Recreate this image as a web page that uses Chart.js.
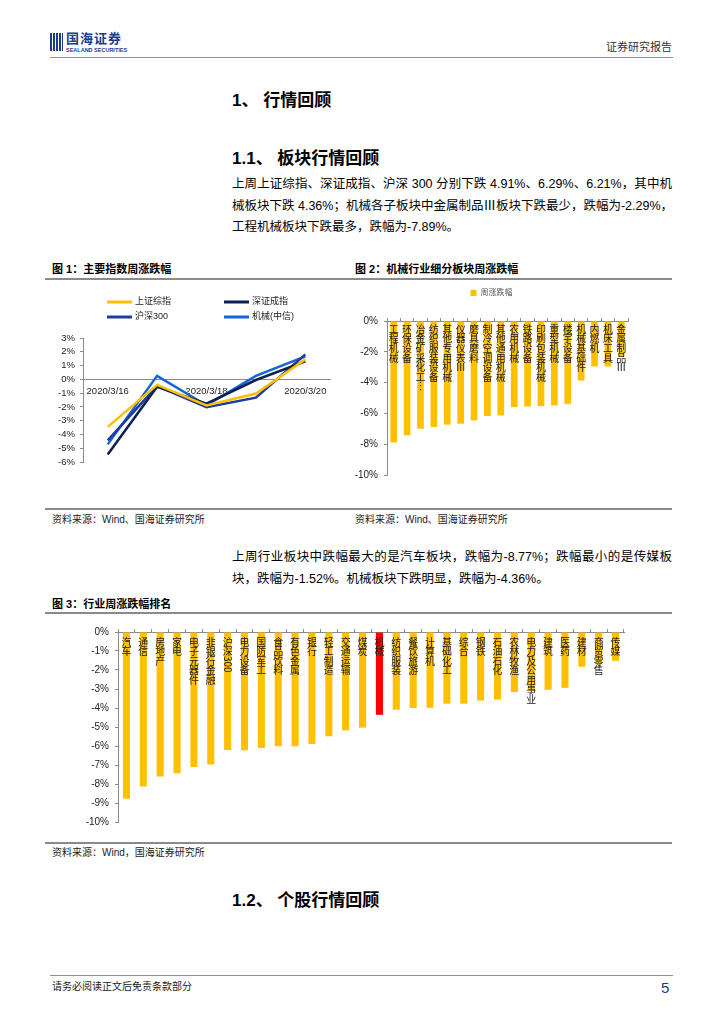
<!DOCTYPE html>
<html>
<head>
<meta charset="utf-8">
<script src="https://cdn.jsdelivr.net/npm/chart.js@4.4.1/dist/chart.umd.min.js"></script>
<style>
  body { margin: 0; background: #fff; width: 724px; height: 1024px; position: relative; overflow: hidden;
         font-family: "Liberation Sans", "Noto Sans CJK SC", sans-serif; color: #000; }
  .abs { position: absolute; white-space: nowrap; line-height: 1.2; }
  .rule-blue { position: absolute; left: 50px; width: 623px; height: 1px; background: #8c8cc4; }
  .rule-gray { position: absolute; left: 45px; width: 627px; height: 2px; background: #8a8a8a; }
  .h1 { font-size: 17px; font-weight: bold; }
  .para { font-size: 12.5px; width: 440px; text-align: justify; text-align-last: justify; }
  .para.last { text-align-last: left; }
  .figt { font-size: 11px; font-weight: bold; }
  .src { font-size: 10px; color: #222; }
  canvas { position: absolute; }
</style>
</head>
<body>
<!-- header -->
<div class="abs" style="left:50px;top:33px;width:13px;height:18px;background:repeating-linear-gradient(90deg,#1d3b8c 0 2px,#fff 2px 3px);"></div>
<div class="abs" style="left:66px;top:31px;font-size:13px;line-height:15px;font-weight:bold;color:#1d3b8c;letter-spacing:1px;">国海证券</div>
<div class="abs" style="left:66px;top:47px;font-size:5.5px;line-height:6px;font-weight:bold;color:#1d3b8c;">SEALAND SECURITIES</div>
<div class="abs" style="left:606px;top:41px;font-size:11px;color:#333;">证券研究报告</div>
<div class="rule-blue" style="top:57px;"></div>

<div class="abs h1" style="left:232px;top:91px;">1、 行情回顾</div>
<div class="abs h1" style="left:232px;top:149px;">1.1、 板块行情回顾</div>

<div class="abs para" style="left:232px;top:177px;">上周上证综指、深证成指、沪深 300 分别下跌 4.91%、6.29%、6.21%，其中机</div>
<div class="abs para" style="left:232px;top:199px;">械板块下跌 4.36%；机械各子板块中金属制品Ⅲ板块下跌最少，跌幅为-2.29%，</div>
<div class="abs para last" style="left:232px;top:220px;">工程机械板块下跌最多，跌幅为-7.89%。</div>

<div class="abs figt" style="left:52px;top:263px;">图 1：主要指数周涨跌幅</div>
<div class="abs figt" style="left:355px;top:263px;">图 2：机械行业细分板块周涨跌幅</div>
<div class="rule-gray" style="top:278px;"></div>

<canvas id="indexChart" width="295" height="210" style="left:50px;top:288px;"></canvas>
<canvas id="subChart" width="320" height="215" style="left:355px;top:285px;"></canvas>

<div class="rule-gray" style="top:508px;"></div>
<div class="abs src" style="left:52px;top:514px;">资料来源：Wind、国海证券研究所</div>
<div class="abs src" style="left:355px;top:514px;">资料来源：Wind、国海证券研究所</div>

<div class="abs para" style="left:232px;top:550px;">上周行业板块中跌幅最大的是汽车板块，跌幅为-8.77%；跌幅最小的是传媒板</div>
<div class="abs para last" style="left:232px;top:572px;">块，跌幅为-1.52%。机械板块下跌明显，跌幅为-4.36%。</div>

<div class="abs figt" style="left:52px;top:598px;">图 3：行业周涨跌幅排名</div>
<div class="rule-gray" style="top:612px;"></div>

<canvas id="industryChart" width="630" height="215" style="left:50px;top:620px;"></canvas>

<div class="rule-gray" style="top:842px;"></div>
<div class="abs src" style="left:52px;top:847px;">资料来源：Wind，国海证券研究所</div>

<div class="abs h1" style="left:232px;top:891px;">1.2、 个股行情回顾</div>

<div class="rule-blue" style="top:975px;"></div>
<div class="abs src" style="left:52px;top:981px;">请务必阅读正文后免责条款部分</div>
<div class="abs" style="left:661px;top:979px;font-size:15px;color:#1d3b8c;">5</div>

<script>
// 图1 主要指数日涨跌幅 (%)
const dates = ["2020/3/16", "2020/3/17", "2020/3/18", "2020/3/19", "2020/3/20"];
const shComposite = [-3.45, -0.40, -1.89, -1.03, 1.45];
const szComponent = [-5.45, -0.54, -1.77, -0.05, 1.30];
const csi300 = [-4.43, -0.49, -2.02, -1.33, 1.80];
const machinery = [-4.72, 0.25, -1.89, 0.25, 1.67];

// 图2 机械细分板块周涨跌幅 (%)
const subSectors = [
  "工程机械", "环保设备", "冶金矿采化工…", "纺织服装设备", "其他专用机械", "仪器仪表Ⅲ",
  "磨具磨料", "制冷空调设备", "其他通用机械", "农用机械", "铁路设备", "印刷包装机械",
  "重型机械", "楼宇设备", "机械基础件", "内燃机", "机床工具", "金属制品Ⅲ",
];
const subChanges = [
  -7.89, -7.42, -6.99, -6.88, -6.73, -6.67,
  -6.45, -6.17, -6.13, -5.59, -5.55, -5.53,
  -5.48, -5.38, -3.87, -2.95, -2.95, -2.29,
];

// 图3 行业周涨跌幅排名 (%)
const industries = [
  "汽车", "通信", "房地产", "家电", "电子元器件", "非银行金融", "沪深300", "电力设备",
  "国防军工", "食品饮料", "有色金属", "银行", "轻工制造", "交通运输", "煤炭", "机械",
  "纺织服装", "餐饮旅游", "计算机", "基础化工", "综合", "钢铁", "石油石化", "农林牧渔",
  "电力及公用事业", "建筑", "医药", "建材", "商贸零售", "传媒",
];
const industryChanges = [
  -8.77, -8.13, -7.60, -7.43, -7.10, -6.98, -6.21, -6.22,
  -6.10, -6.01, -6.01, -5.89, -5.49, -5.18, -5.03, -4.36,
  -4.09, -4.00, -3.99, -3.77, -3.77, -3.61, -3.56, -3.16,
  -3.08, -3.04, -2.94, -1.83, -1.70, -1.52,
];
const highlight = "机械";

const pct = (v) => v + "%";
Chart.defaults.font.family = '"Liberation Sans", "Noto Sans CJK SC", sans-serif';
Chart.defaults.color = "#222";

// 柱内竖排标签
const verticalLabels = {
  id: "verticalLabels",
  afterDatasetsDraw(chart, args, opts) {
    const ctx = chart.ctx;
    const x = chart.scales.x;
    const y = chart.scales.y;
    ctx.save();
    ctx.font = opts.size + 'px "Noto Sans CJK SC", sans-serif';
    ctx.fillStyle = "#1a1a1a";
    chart.data.labels.forEach((label, i) => {
      const cx = x.getPixelForValue(i);
      let cy = y.getPixelForValue(0) + opts.offset;
      const tokens = label.replace("…", "︙").match(/[A-Za-z0-9]{2,}|./g);
      tokens.forEach((t) => {
        if (t.length > 1) {
          const w = ctx.measureText(t).width;
          ctx.save();
          ctx.translate(cx, cy);
          ctx.rotate(Math.PI / 2);
          ctx.textAlign = "left";
          ctx.textBaseline = "middle";
          ctx.fillText(t, 0, 0);
          ctx.restore();
          cy += w + 1;
        } else {
          ctx.textAlign = "center";
          ctx.textBaseline = "top";
          ctx.fillText(t, cx, cy);
          cy += opts.step;
        }
      });
    });
    ctx.restore();
  },
};

// 图1 两列图例
const gridLegend = {
  id: "gridLegend",
  afterDraw(chart, args, opts) {
    const ctx = chart.ctx;
    ctx.save();
    ctx.font = '9px "Liberation Sans", "Noto Sans CJK SC", sans-serif';
    ctx.textBaseline = "middle";
    chart.data.datasets.forEach((ds, i) => {
      const lx = opts.cols[i % 2];
      const ly = opts.rows[Math.floor(i / 2)];
      ctx.strokeStyle = ds.borderColor;
      ctx.lineWidth = 3;
      ctx.beginPath();
      ctx.moveTo(lx, ly);
      ctx.lineTo(lx + 25, ly);
      ctx.stroke();
      ctx.fillStyle = "#222";
      ctx.fillText(ds.label, lx + 28, ly);
    });
    ctx.restore();
  },
};

new Chart(document.getElementById("indexChart"), {
  type: "line",
  data: {
    labels: dates,
    datasets: [
      { label: "上证综指", data: shComposite, borderColor: "#FFC000" },
      { label: "深证成指", data: szComponent, borderColor: "#0B1F55" },
      { label: "沪深300", data: csi300, borderColor: "#1F3C9C" },
      { label: "机械(中信)", data: machinery, borderColor: "#1565D8" },
    ],
  },
  options: {
    responsive: false,
    animation: false,
    elements: { point: { radius: 0 }, line: { borderWidth: 2.5, tension: 0 } },
    layout: { padding: { top: 50, right: 15, bottom: 36, left: 0 } },
    plugins: {
      legend: { display: false },
      tooltip: { enabled: false },
      gridLegend: { cols: [57, 174], rows: [14, 29] },
    },
    scales: {
      x: {
        offset: true,
        position: { y: 0 },
        grid: { display: false, drawTicks: false },
        border: { color: "#8a8a8a" },
        ticks: {
          autoSkip: false,
          maxRotation: 0,
          padding: 6,
          font: { size: 9.5 },
          callback: (v, i) => (i % 2 === 0 ? dates[i] : ""),
        },
      },
      y: {
        min: -6,
        max: 3,
        afterFit: (s) => { s.width = 33; },
        grid: { drawOnChartArea: false, tickLength: 3, color: "#8a8a8a" },
        border: { color: "#8a8a8a" },
        ticks: { stepSize: 1, autoSkip: false, padding: 5, font: { size: 9.5 }, callback: pct },
      },
    },
  },
  plugins: [gridLegend],
});

new Chart(document.getElementById("subChart"), {
  type: "bar",
  data: {
    labels: subSectors,
    datasets: [
      { label: "周涨跌幅", data: subChanges, backgroundColor: "#FFC000",
        barPercentage: 0.5, categoryPercentage: 1 },
    ],
  },
  options: {
    responsive: false,
    animation: false,
    layout: { padding: { top: 0, right: 47, bottom: 25, left: 0 } },
    plugins: {
      legend: {
        position: "top",
        labels: { boxWidth: 6, boxHeight: 6, padding: 4, color: "#595959", font: { size: 8 } },
      },
      tooltip: { enabled: false },
      verticalLabels: { size: 10, step: 9.6, offset: 3 },
    },
    scales: {
      x: {
        position: "top",
        afterFit: (s) => { s.height = 14; },
        grid: { drawOnChartArea: false, tickLength: 3, color: "#8a8a8a" },
        border: { color: "#8a8a8a" },
        ticks: { display: false },
      },
      y: {
        min: -10,
        max: 0,
        afterFit: (s) => { s.width = 32; },
        grid: { drawOnChartArea: false, tickLength: 3, color: "#8a8a8a" },
        border: { color: "#8a8a8a" },
        ticks: { stepSize: 2, autoSkip: false, padding: 6, font: { size: 10 }, callback: pct },
      },
    },
  },
  plugins: [verticalLabels],
});

new Chart(document.getElementById("industryChart"), {
  type: "bar",
  data: {
    labels: industries,
    datasets: [
      { label: "周涨跌幅", data: industryChanges,
        backgroundColor: industries.map((n) => (n === highlight ? "#FF0000" : "#FFC000")),
        barPercentage: 0.42, categoryPercentage: 1 },
    ],
  },
  options: {
    responsive: false,
    animation: false,
    layout: { padding: { top: 3, right: 56, bottom: 13, left: 0 } },
    plugins: {
      legend: { display: false },
      tooltip: { enabled: false },
      verticalLabels: { size: 10, step: 9.5, offset: 5 },
    },
    scales: {
      x: {
        position: "top",
        afterFit: (s) => { s.height = 4; },
        grid: { drawOnChartArea: false, tickLength: 3, color: "#8a8a8a" },
        border: { color: "#8a8a8a" },
        ticks: { display: false },
      },
      y: {
        min: -10,
        max: 0,
        afterFit: (s) => { s.width = 68; },
        grid: { drawOnChartArea: false, tickLength: 3, color: "#8a8a8a" },
        border: { color: "#8a8a8a" },
        ticks: { stepSize: 1, autoSkip: false, padding: 6, font: { size: 10 }, callback: pct },
      },
    },
  },
  plugins: [verticalLabels],
});
</script>
</body>
</html>
